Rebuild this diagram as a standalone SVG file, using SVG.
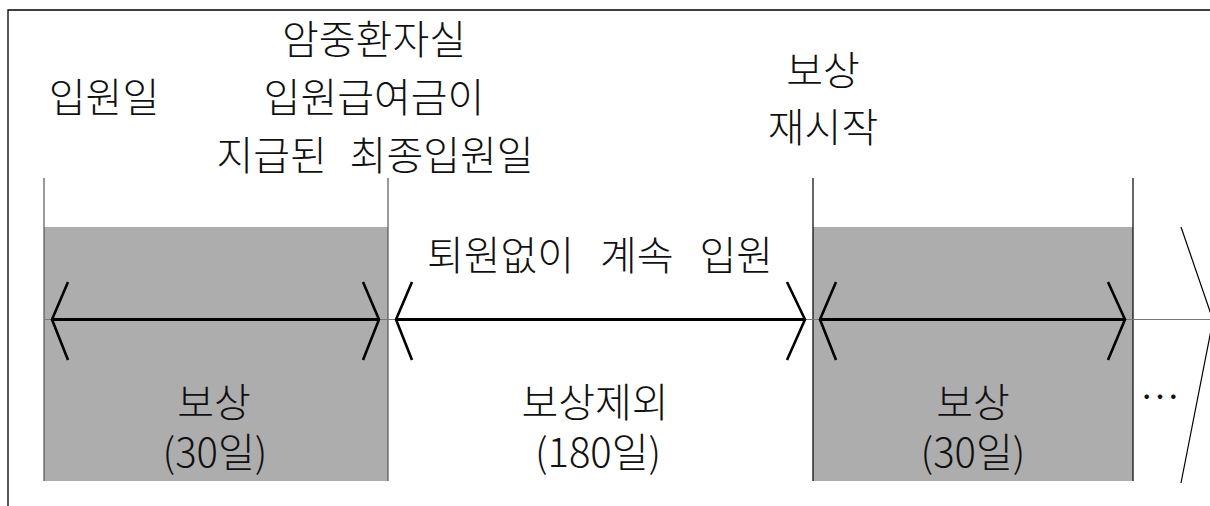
<svg xmlns="http://www.w3.org/2000/svg" width="1210" height="506" viewBox="0 0 1210 506">
<style>
text{font-family:"Noto Sans CJK KR","Noto Sans",sans-serif;font-size:40px;font-weight:300;fill:#111;text-anchor:middle}
.band{fill:#adadad}
.vg{stroke:#555;stroke-width:1.2}
.vb{stroke:#000;stroke-width:1.2}
.shaft{stroke:#000;stroke-width:3;fill:none}
.chev{stroke:#000;stroke-width:2.6;fill:none}
.axis{stroke:#777;stroke-width:1}
.frame{stroke:#000;stroke-width:1.3;fill:none}
</style>
<rect width="1210" height="506" fill="#fff"/>
<path class="frame" d="M8,506 V10 H1210"/>
<g id="period1">
<rect class="band" x="44" y="227" width="344" height="254"/>
<line class="vg" x1="44" y1="178" x2="44" y2="481"/>
<line class="vg" x1="388" y1="178" x2="388" y2="481"/>
<text x="214" y="417">보상</text>
<text x="215" y="467">(30일)</text>
</g>
<g id="period2">
<text x="595" y="417">보상제외</text>
<text x="598" y="467">(180일)</text>
<text x="600" y="270" word-spacing="17">퇴원없이 계속 입원</text>
</g>
<g id="period3">
<rect class="band" x="813" y="227" width="320" height="254"/>
<line class="vb" x1="813" y1="178" x2="813" y2="481"/>
<line class="vb" x1="1133" y1="178" x2="1133" y2="481"/>
<text x="973" y="417">보상</text>
<text x="973" y="467">(30일)</text>
</g>
<g id="label-admission">
<text x="104" y="112">입원일</text>
</g>
<g id="label-last">
<text x="374" y="54">암중환자실</text>
<text x="374" y="112">입원급여금이</text>
<text x="375" y="170" word-spacing="14">지급된 최종입원일</text>
</g>
<g id="label-restart">
<text x="823" y="85">보상</text>
<text x="823" y="142">재시작</text>
</g>
<g id="ellipsis">
<text x="1160" y="412">⋯</text>
</g>
<g id="connectors">
<line class="axis" x1="44" y1="319.5" x2="1210" y2="319.5"/>
<line class="shaft" x1="52" y1="319.5" x2="378" y2="319.5"/>
<polyline class="chev" points="68,282 52,319.5 68,360"/>
<polyline class="chev" points="363,282 379,319.5 363,360"/>
<line class="shaft" x1="396" y1="319.5" x2="805" y2="319.5"/>
<polyline class="chev" points="412,282 396,319.5 412,360"/>
<polyline class="chev" points="787,282 805,319.5 787,360"/>
<line class="shaft" x1="820" y1="319.5" x2="1124" y2="319.5"/>
<polyline class="chev" points="836,282 820,319.5 836,360"/>
<polyline class="chev" points="1108,282 1125,319.5 1108,360"/>
<polyline fill="none" stroke="#000" stroke-width="1.2" points="1181,227 1213,320 1181,483"/>
</g>
</svg>
